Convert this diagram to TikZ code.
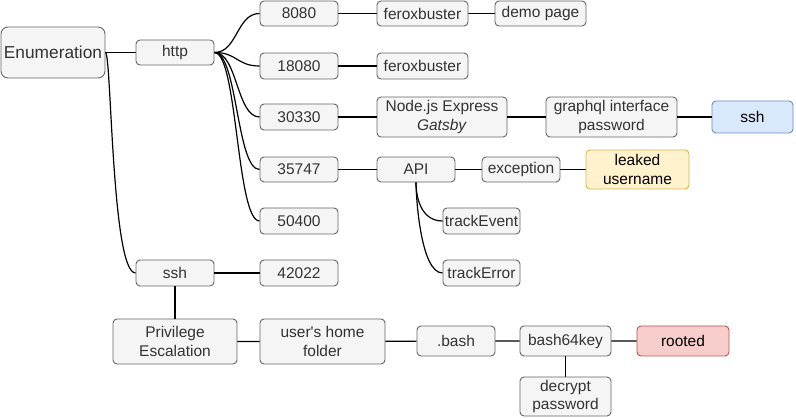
\documentclass[tikz,border=0pt]{standalone}
\usepackage{fontspec}
\setmainfont{Liberation Sans}
\definecolor{boxfill}{HTML}{F5F5F5}
\definecolor{boxline}{HTML}{666666}
\definecolor{boxtext}{HTML}{333333}
\definecolor{bluefill}{HTML}{DAE8FC}
\definecolor{blueline}{HTML}{6C8EBF}
\definecolor{yellowfill}{HTML}{FFF2CC}
\definecolor{yellowline}{HTML}{D6B656}
\definecolor{redfill}{HTML}{F8CECC}
\definecolor{redline}{HTML}{B85450}

\begin{document}
\begin{tikzpicture}[x=1pt, y=-1pt,
    box/.style={draw=boxline, fill=boxfill, text=boxtext, line width=0.9pt,
        rounded corners=4pt, inner sep=0pt, align=center,
        font=\fontsize{15.5}{18.5}\selectfont},
    wh/.style 2 args={minimum width=#1pt, minimum height=#2pt},
    bluebox/.style={box, draw=blueline, fill=bluefill, text=black},
    yellowbox/.style={box, draw=yellowline, fill=yellowfill, text=black},
    redbox/.style={box, draw=redline, fill=redfill, text=black},
    link/.style={line width=1.2pt},
]
    \useasboundingbox (0, 0) rectangle (796, 419);
    % Enumeration
    \node[box, wh={104}{51}, rounded corners=7pt,
        font=\fontsize{17.3}{20}\selectfont] (enum) at (53, 52.5) {Enumeration};
    \node[box, wh={78}{25}] (http) at (175, 52.5) {http};
    \node[box, wh={78}{26}] (ssh) at (175, 273) {ssh};
    % http ports
    \node[box, wh={78}{25}] (p8080) at (299, 13.5) {8080};
    \node[box, wh={91}{25}] (ferox1) at (422.5, 13.5) {feroxbuster};
    \node[box, wh={91}{25}] (demo) at (540.5, 13.5) {demo page};
    \node[box, wh={78}{26}] (p18080) at (299, 66) {18080};
    \node[box, wh={91}{26}] (ferox2) at (422.5, 66) {feroxbuster};
    \node[box, wh={78}{26}] (p30330) at (299, 117) {30330};
    \node[box, wh={130}{40}] (express) at (442, 117) {Node.js Express\\\textit{Gatsby}};
    \node[box, wh={131}{40}] (graphql) at (611.5, 117) {graphql interface\\password};
    \node[bluebox, wh={81}{32}] (sshuser) at (752.5, 117) {ssh};
    \node[box, wh={78}{25}] (p35747) at (299, 169.5) {35747};
    \node[box, wh={78}{25}] (api) at (416, 169.5) {API};
    \node[box, wh={78}{25}] (exc) at (521, 169.5) {exception};
    \node[yellowbox, wh={103}{39}] (leak) at (637.5, 169.5) {leaked\\username};
    \node[box, wh={78}{26}] (p50400) at (299, 221) {50400};
    \node[box, wh={77}{26}] (tevent) at (481.5, 221) {trackEvent};
    \node[box, wh={77}{26}] (terror) at (481.5, 273) {trackError};
    % ssh port
    \node[box, wh={78}{26}] (p42022) at (299, 273) {42022};
    % Privilege escalation
    \node[box, wh={124}{45}] (priv) at (175, 341.5) {Privilege\\Escalation};
    \node[box, wh={125}{45}] (home) at (322.5, 341.5) {user\textquotesingle s home\\folder};
    \node[box, wh={78}{30}] (bash) at (456, 341) {.bash};
    \node[box, wh={91}{30}] (key) at (565.5, 341) {bash64key};
    \node[redbox, wh={92}{30}] (rooted) at (683, 341) {rooted};
    \node[box, wh={91}{39}] (decrypt) at (565.5, 396.5) {decrypt\\password};
    % Connectors
    \draw[link] (enum) -- (http);
    \draw[link] (enum.east) .. controls +(6, 0) and +(-24, 0) .. (ssh.west);
    \foreach \p in {p8080, p18080, p30330, p35747, p50400}
        \draw[link] (http.east) .. controls +(23, 0) and +(-23, 0) .. (\p.west);
    \draw[link] (p8080) -- (ferox1) -- (demo);
    \draw[link] (p18080) -- (ferox2);
    \draw[link] (p30330) -- (express) -- (graphql) -- (sshuser);
    \draw[link] (p35747) -- (api) -- (exc) -- (leak);
    \foreach \t in {tevent, terror}
        \draw[link] (api.south) .. controls +(0, 14) and +(-22, 0) .. (\t.west);
    \draw[link] (ssh) -- (p42022);
    \draw[link] (ssh) -- (priv);
    \draw[link] (priv) -- (home) -- (bash) -- (key) -- (rooted);
    \draw[link] (key) -- (decrypt);
\end{tikzpicture}
\end{document}
